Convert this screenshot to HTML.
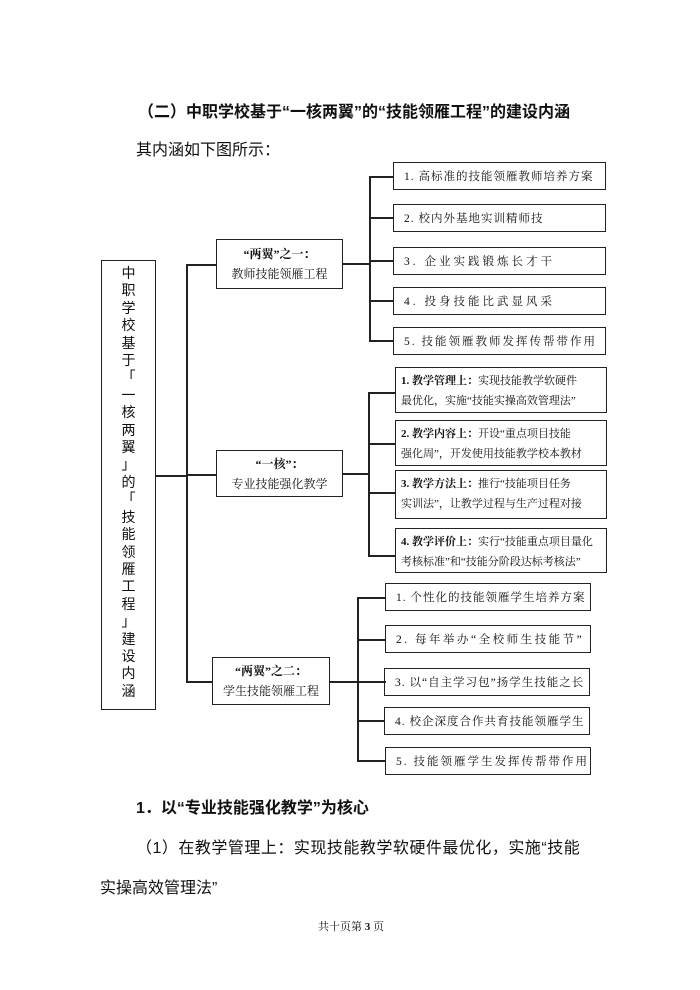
<!DOCTYPE html>
<html><head><meta charset="utf-8"><style>
body{margin:0;width:700px;height:990px;background:#fff;position:relative;font-family:"Liberation Serif","Noto Serif CJK SC",serif;color:#111;overflow:hidden}
.a{position:absolute}
.b{position:absolute;border:1.5px solid #222;box-sizing:border-box;font-size:11.5px;display:flex;align-items:center;padding-left:10px;letter-spacing:1px;white-space:nowrap}
.m{position:absolute;border:1.5px solid #222;box-sizing:border-box;font-size:12px;text-align:center;display:flex;flex-direction:column;justify-content:center;line-height:20px}
.t{position:absolute;border:1.5px solid #222;box-sizing:border-box;font-size:11px;padding:3px 5px;line-height:20px;white-space:nowrap;overflow:hidden}
.h{position:absolute;background:#222;height:1.5px}
.v{position:absolute;background:#222;width:1.5px}
.s{font-family:"Liberation Sans","Noto Sans CJK SC",sans-serif}
.lb{position:absolute;border:1.5px solid #222;box-sizing:border-box;font-size:14px;text-align:center;line-height:17.4px;padding-top:4px;font-family:"Noto Sans CJK SC",sans-serif}
</style></head><body>
<div class="a s" style="left:138px;top:98px;font-size:16px;font-weight:bold">（二）中职学校基于“一核两翼”的“技能领雁工程”的建设内涵</div>
<div class="a s" style="left:136px;top:136px;font-size:16px">其内涵如下图所示：</div>

<div class="lb" style="left:101px;top:260px;width:55px;height:450px">中<br>职<br>学<br>校<br>基<br>于<br>「<br>一<br>核<br>两<br>翼<br>」<br>的<br>「<br>技<br>能<br>领<br>雁<br>工<br>程<br>」<br>建<br>设<br>内<br>涵</div>
<div class="h" style="left:155px;top:475px;width:32px"></div>
<div class="v" style="left:186px;top:264px;height:418px"></div>
<div class="h" style="left:186px;top:264px;width:30px"></div>
<div class="h" style="left:186px;top:474px;width:30px"></div>
<div class="h" style="left:186px;top:681px;width:27px"></div>

<div class="m" style="left:216px;top:239px;width:127px;height:50px"><b>“两翼”之一：</b><span>教师技能领雁工程</span></div>
<div class="m" style="left:216px;top:450px;width:127px;height:47px"><b>“一核”：</b><span>专业技能强化教学</span></div>
<div class="m" style="left:212px;top:657px;width:118px;height:48px"><b>“两翼”之二：</b><span>学生技能领雁工程</span></div>

<div class="h" style="left:342px;top:263px;width:28px"></div>
<div class="v" style="left:369px;top:176px;height:165px"></div>
<div class="h" style="left:369px;top:176px;width:24px"></div>
<div class="h" style="left:369px;top:217px;width:24px"></div>
<div class="h" style="left:369px;top:260px;width:24px"></div>
<div class="h" style="left:369px;top:300px;width:24px"></div>
<div class="h" style="left:369px;top:340px;width:24px"></div>
<div class="b" style="left:393px;top:162px;width:213px;height:28px">1. 高标准的技能领雁教师培养方案</div>
<div class="b" style="left:393px;top:204px;width:213px;height:28px">2. 校内外基地实训精师技</div>
<div class="b" style="left:393px;top:247px;width:213px;height:28px;letter-spacing:3px">3. 企业实践锻炼长才干</div>
<div class="b" style="left:393px;top:287px;width:213px;height:28px;letter-spacing:3px">4. 投身技能比武显风采</div>
<div class="b" style="left:393px;top:327px;width:213px;height:28px;letter-spacing:2px">5. 技能领雁教师发挥传帮带作用</div>

<div class="h" style="left:342px;top:473px;width:27px"></div>
<div class="v" style="left:368px;top:392px;height:164px"></div>
<div class="h" style="left:368px;top:392px;width:27px"></div>
<div class="h" style="left:368px;top:443px;width:27px"></div>
<div class="h" style="left:368px;top:492px;width:27px"></div>
<div class="h" style="left:368px;top:555px;width:27px"></div>
<div class="t" style="left:395px;top:367px;width:212px;height:46px"><b>1. 教学管理上：</b>实现技能教学软硬件<br>最优化，实施“技能实操高效管理法”</div>
<div class="t" style="left:395px;top:420px;width:212px;height:46px"><b>2. 教学内容上：</b>开设“重点项目技能<br>强化周”，开发使用技能教学校本教材</div>
<div class="t" style="left:395px;top:470px;width:212px;height:49px"><b>3. 教学方法上：</b>推行“技能项目任务<br>实训法”，让教学过程与生产过程对接</div>
<div class="t" style="left:395px;top:528px;width:212px;height:45px"><b>4. 教学评价上：</b>实行“技能重点项目量化<br>考核标准”和“技能分阶段达标考核法”</div>

<div class="h" style="left:329px;top:681px;width:57px"></div>
<div class="v" style="left:357px;top:597px;height:164px"></div>
<div class="h" style="left:357px;top:597px;width:28px"></div>
<div class="h" style="left:357px;top:639px;width:28px"></div>
<div class="h" style="left:357px;top:720px;width:28px"></div>
<div class="h" style="left:357px;top:760px;width:28px"></div>
<div class="b" style="left:385px;top:583px;width:206px;height:28px">1. 个性化的技能领雁学生培养方案</div>
<div class="b" style="left:385px;top:625px;width:206px;height:28px;letter-spacing:2.5px">2. 每年举办“全校师生技能节”</div>
<div class="b" style="left:384px;top:668px;width:206px;height:28px">3. 以“自主学习包”扬学生技能之长</div>
<div class="b" style="left:384px;top:707px;width:206px;height:28px">4. 校企深度合作共育技能领雁学生</div>
<div class="b" style="left:385px;top:747px;width:206px;height:28px;letter-spacing:2px">5. 技能领雁学生发挥传帮带作用</div>

<div class="a s" style="left:136px;top:794px;font-size:16px;font-weight:bold">1．以“专业技能强化教学”为核心</div>
<div class="a s" style="left:136px;top:834px;font-size:16px;letter-spacing:0.5px">（1）在教学管理上：实现技能教学软硬件最优化，实施“技能</div>
<div class="a s" style="left:100px;top:874px;font-size:16px">实操高效管理法”</div>
<div class="a" style="left:318px;top:918px;font-size:11px">共十页第 <b>3</b> 页</div>
</body></html>
